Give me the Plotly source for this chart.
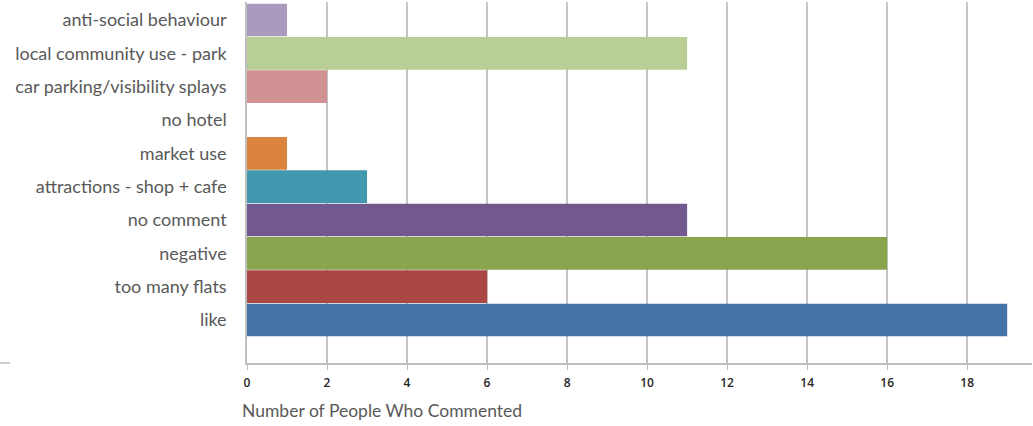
import plotly.graph_objects as go

categories = ["like", "too many flats", "negative", "no comment", "attractions - shop + cafe",
              "market use", "no hotel", "car parking/visibility splays",
              "local community use - park", "anti-social behaviour"]
values = [19, 6, 16, 11, 3, 1, 0, 2, 11, 1]
colors = ["#4572A7", "#AA4643", "#89A54E", "#71588F", "#4198AF",
          "#DB843D", "#93A9CF", "#D09292", "#B9CD96", "#A99BBD"]
x_ticks = [0, 2, 4, 6, 8, 10, 12, 14, 16, 18]

fig = go.Figure(go.Bar(
    y=categories, x=values, orientation="h",
    marker=dict(color=colors, line=dict(width=0)),
    hoverinfo="x+y",
))

W, H = 1033, 426
L, R, T, B = 247, 1, 2, 63
fig.update_layout(
    width=W, height=H,
    margin=dict(l=L, r=R, t=T, b=B, pad=0),
    plot_bgcolor="white", paper_bgcolor="white",
    bargap=0.02, showlegend=False,
    font=dict(family="Lato, Open Sans, sans-serif"),
    xaxis=dict(range=[0, 19.62], tickvals=x_ticks, showgrid=True, gridcolor="#C4C4C4", gridwidth=1.5,
               showline=True, linecolor="#BFBFBF", linewidth=1.5, ticks="outside", ticklen=5,
               tickcolor="#BFBFBF", ticklabelstandoff=3,
               tickfont=dict(size=12, color="#262626", family="Open Sans, sans-serif", weight=600),
               zeroline=False, fixedrange=True),
    yaxis=dict(categoryorder="array", categoryarray=categories, range=[-1.29, 9.54],
               showline=True, linecolor="#BFBFBF", linewidth=1.5, ticks="", showgrid=False,
               tickfont=dict(size=18, color="#595959"), ticklabelstandoff=15, zeroline=False,
               fixedrange=True),
    annotations=[dict(text="Number of People Who Commented", xref="paper", yref="paper",
                      x=(240 - L) / (W - L - R), y=-(410 - (H - B)) / (H - B - T),
                      xanchor="left", yanchor="middle", showarrow=False,
                      font=dict(size=17.5, color="#595959"))],
    shapes=[dict(type="line", xref="paper", yref="paper",
                 x0=-L / (W - L - R), x1=(10 - L) / (W - L - R), y0=0, y1=0,
                 line=dict(color="#BFBFBF", width=1.5))],
)

fig.write_html("out.html")
